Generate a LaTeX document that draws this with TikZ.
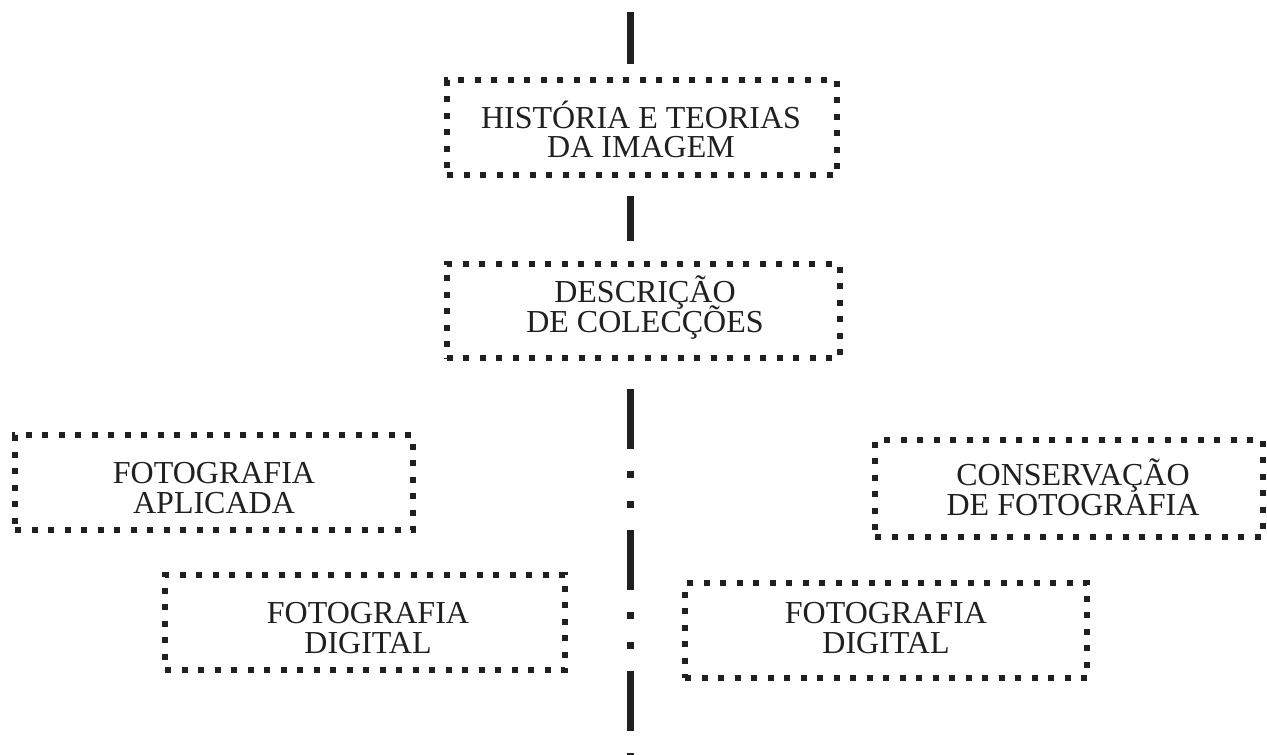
\documentclass[tikz,border=0pt]{standalone}
\usepackage{fontspec}
\setmainfont{Liberation Serif}
\definecolor{ink}{HTML}{202020}
\begin{document}
\begin{tikzpicture}[x=1pt,y=-1pt,
  dotbox/.style={draw=ink, line width=6pt, dash pattern=on 6pt off 10.5pt,
    inner sep=0pt},
  txt/.style={text=ink, inner sep=0pt, anchor=base,
    font=\fontsize{32}{30}\selectfont},
  vline/.style={draw=ink, line width=7pt}]
\useasboundingbox[fill=white] (0,0) rectangle (1267,755);
% boxes
\node[dotbox, minimum width=390pt, minimum height=95pt] (H) at (642,127.5) {};
\node[dotbox, minimum width=393pt, minimum height=94pt] (D) at (643,311) {};
\node[dotbox, minimum width=398pt, minimum height=95pt] (A) at (214,482.5) {};
\node[dotbox, minimum width=388pt, minimum height=97pt] (C) at (1069,488.5) {};
\node[dotbox, minimum width=400pt, minimum height=95pt] (DL) at (365,622.5) {};
\node[dotbox, minimum width=402pt, minimum height=95pt] (DR) at (886,630.5) {};
% texts
\node[txt] (H1) at (641,128) {HISTÓRIA E TEORIAS};
\node[txt] (H2) at (641,157) {DA IMAGEM};
\node[txt] (D1) at (645,302) {DESCRIÇÃO};
\node[txt] (D2) at (645,332) {DE COLECÇÕES};
\node[txt] (A1) at (214,483) {FOTOGRAFIA};
\node[txt] (A2) at (214,513) {APLICADA};
\node[txt] (C1) at (1073,485) {CONSERVAÇÃO};
\node[txt] (C2) at (1073,515) {DE FOTOGRAFIA};
\node[txt] (DL1) at (368,623) {FOTOGRAFIA};
\node[txt] (DL2) at (368,653) {DIGITAL};
\node[txt] (DR1) at (886,623) {FOTOGRAFIA};
\node[txt] (DR2) at (886,653) {DIGITAL};
% spine
\coordinate (top) at (630,12);
\coordinate (bot) at (630,760);
\draw[vline, shorten >=13pt] (top) -- (top |- H.north);
\draw[vline, shorten <=18pt, shorten >=20pt] (top |- H.south) -- (top |- D.north);
\draw[vline, dash pattern=on 60pt off 22pt on 7pt off 23pt on 7pt off 22pt, shorten <=28pt] (top |- D.south) -- (bot);
\end{tikzpicture}
\end{document}
